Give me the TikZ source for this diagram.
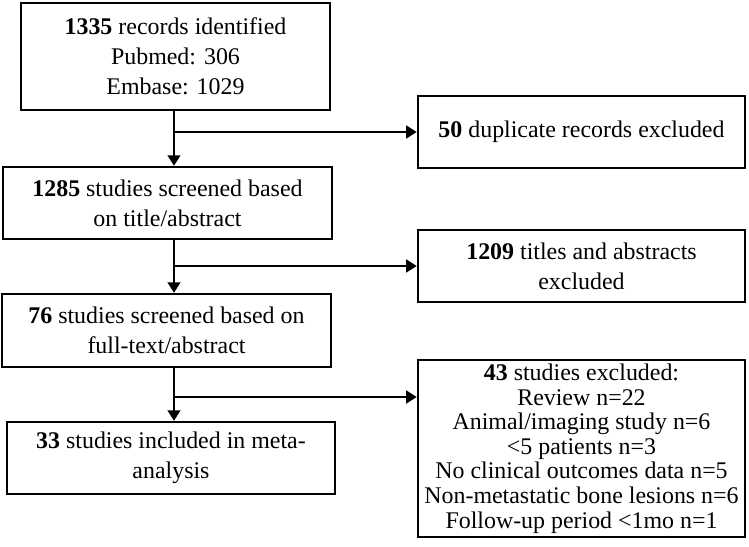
\documentclass[tikz,border=0pt]{standalone}
\usepackage{fontspec}
\setmainfont{Liberation Serif}
\usetikzlibrary{arrows.meta}

\tikzset{
    box/.style={draw, line width=1.7pt, align=center, inner sep=0pt,
        font=\fontsize{17}{21.3}\selectfont},
    arr/.style={line width=1.7pt, -{Triangle[length=7.5pt,width=9pt]}}
}

\begin{document}
\begin{tikzpicture}[x=0.025cm, y=-0.025cm]
    \useasboundingbox (0,0) rectangle (749,546);

    % left column
    \node[box, minimum width=7.725cm, minimum height=2.675cm] (rec) at (175.5,56.5)
        {\textbf{1335} records identified\\Pubmed: 306\\Embase: 1029};
    \node[box, minimum width=8.225cm, minimum height=1.8cm] (scr) at (167.5,203)
        {\textbf{1285} studies screened based\\on title/abstract};
    \node[box, minimum width=8.225cm, minimum height=1.825cm] (full) at (166.5,330.5)
        {\textbf{76} studies screened based on\\full-text/abstract};
    \node[box, minimum width=8.2cm, minimum height=1.8cm] (incl) at (171,458)
        {\textbf{33} studies included in meta-\\analysis};

    % right column
    \node[box, minimum width=8.175cm, minimum height=1.8cm] (dup) at (581.5,132)
        {\textbf{50} duplicate records excluded};
    \node[box, minimum width=8.175cm, minimum height=1.8cm] (tit) at (581.5,266)
        {\textbf{1209} titles and abstracts\\excluded};
    \node[box, minimum width=8.175cm, minimum height=4.425cm,
        font=\fontsize{17}{17.5}\selectfont] (excl) at (581.5,448.5)
        {\textbf{43} studies excluded:\\Review n=22\\Animal/imaging study n=6\\
         {<}5 patients n=3\\No clinical outcomes data n=5\\
         Non-metastatic bone lesions n=6\\Follow-up period {<}1mo n=1};

    \coordinate (spine) at (174,0);
    \coordinate (fork) at (174,397);

    % down the left column
    \draw[arr] (spine |- rec.south) -- (spine |- scr.north);
    \draw[arr] (spine |- scr.south) -- (spine |- full.north);
    \draw[arr] (spine |- full.south) -- (spine |- incl.north);

    % branches to the right
    \draw[arr] (spine |- dup.west) -- (dup.west);
    \draw[arr] (spine |- tit.west) -- (tit.west);
    \draw[arr] (fork) -- (fork -| excl.west);
\end{tikzpicture}
\end{document}
